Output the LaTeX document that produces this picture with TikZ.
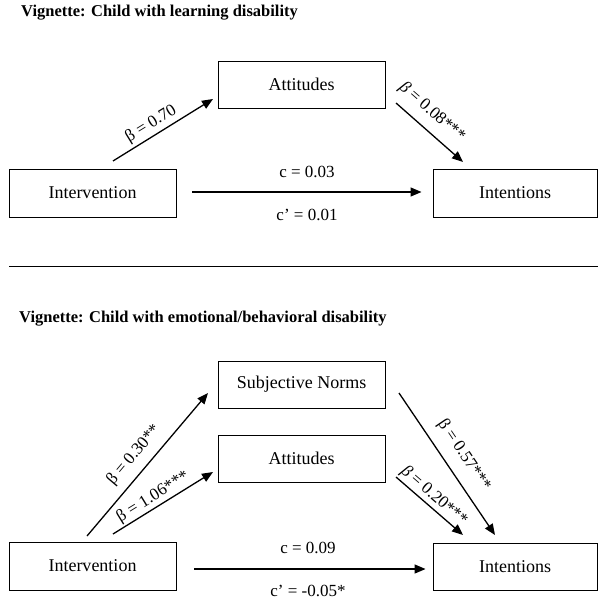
\documentclass[tikz,border=0pt]{standalone}
\usepackage{fontspec}
\setmainfont{Liberation Serif}
\usetikzlibrary{arrows.meta}
\begin{document}
\begin{tikzpicture}[x=1pt,y=-1pt,
  box/.style={draw,line width=0.9pt,minimum width=167pt,minimum height=47pt,inner sep=0pt,font=\fontsize{18}{20}\selectfont},
  lbl/.style={font=\fontsize{17}{19}\selectfont,inner sep=0pt},
  ttl/.style={font=\fontsize{16.5}{19}\selectfont\bfseries,anchor=west,inner sep=0pt},
  arr/.style={line width=1.3pt,-{Triangle[length=11pt,width=9pt]}},
  ]
\useasboundingbox (0,0) rectangle (598,601);
% ---------- top panel ----------
\node[ttl] (t1) at (21,13) {Vignette: Child with learning disability};
\node[box] (att1) at (301.5,84.5) {Attitudes};
\node[box,minimum height=48pt] (int1) at (92.5,193) {Intervention};
\node[box,minimum width=164pt,minimum height=48pt] (ten1) at (515,193) {Intentions};
\coordinate (a1s) at (113,161); \coordinate (a1e) at (213,99);
\draw[arr] (a1s) -- (a1e);
\node[lbl,rotate=31.6] (la1) at (151,124) {β = 0.70};
\coordinate (b1s) at (396,103); \coordinate (b1e) at (463,162);
\draw[arr] (b1s) -- (b1e);
\node[lbl,rotate=-41.3] (lb1) at (432,112) {\textit{β} = 0.08***};
\draw[arr,shorten <=16pt,shorten >=11pt] ([yshift=1pt]int1.east) -- ([yshift=1pt]ten1.west);
\node[lbl] (c1) at (307,172) {c = 0.03};
\node[lbl] (cp1) at (307,215) {c’ = 0.01};
% ---------- separator ----------
\coordinate (s1) at (9,266); \coordinate (s2) at (598,266);
\draw[line width=0.9pt] (s1) -- (s2);
% ---------- bottom panel ----------
\node[ttl] (t2) at (19,318.5) {Vignette: Child with emotional/behavioral disability};
\node[box] (sub2) at (301.5,384.5) {Subjective Norms};
\node[box] (att2) at (301.5,458.5) {Attitudes};
\node[box,minimum height=48pt] (int2) at (92.5,566) {Intervention};
\node[box,minimum width=164pt] (ten2) at (515,566.5) {Intentions};
\coordinate (c1s) at (87,536); \coordinate (c1e) at (208,393);
\draw[arr] (c1s) -- (c1e);
\node[lbl,rotate=49.8] (lc1) at (134,455) {β = 0.30**};
\coordinate (c2s) at (113,534); \coordinate (c2e) at (213,472);
\draw[arr] (c2s) -- (c2e);
\node[lbl,rotate=31.6] (lc2) at (153,497) {β = 1.06***};
\coordinate (c3s) at (399,393); \coordinate (c3e) at (495,535);
\draw[arr] (c3s) -- (c3e);
\node[lbl,rotate=-56] (lc3) at (464,455) {β = 0.57***};
\coordinate (c4s) at (396,477); \coordinate (c4e) at (463,535);
\draw[arr] (c4s) -- (c4e);
\node[lbl,rotate=-40.8] (lc4) at (434,496) {\textit{β} = 0.20***};
\draw[arr,shorten <=18pt,shorten >=7pt] ([yshift=-3pt]int2.east) -- ([yshift=-3pt]int2.east -| ten2.west);
\node[lbl] (c2) at (308,548) {c = 0.09};
\node[lbl] (cp2) at (308,591) {c’ = -0.05*};
\end{tikzpicture}
\end{document}
